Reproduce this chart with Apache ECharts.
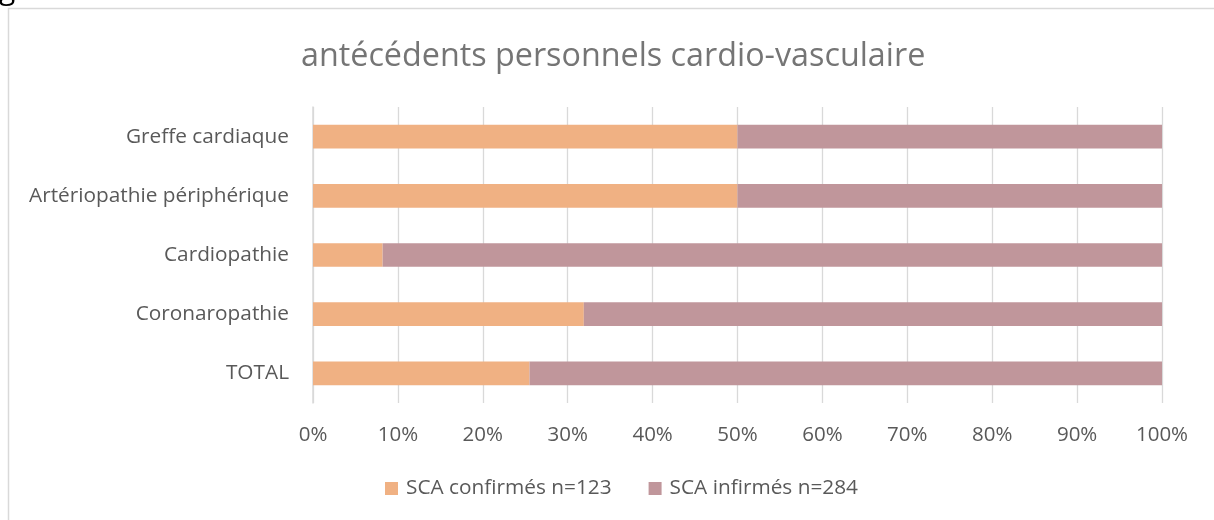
<!DOCTYPE html>
<html><head><meta charset="utf-8">
<script src="https://cdn.jsdelivr.net/npm/echarts@6/dist/echarts.min.js"></script>
<style>html,body{margin:0;padding:0;background:#fff}#c{width:1214px;height:520px}</style>
</head><body><div id="c"></div>
<script>
const categories = ['TOTAL', 'Coronaropathie', 'Cardiopathie', 'Artériopathie périphérique', 'Greffe cardiaque'];
const confirmes = [25.5, 31.9, 8.2, 50, 50];
const infirmes = [74.5, 68.1, 91.8, 50, 50];
const seriesNames = ['SCA confirmés n=123', 'SCA infirmés n=284'];
const titleText = 'antécédents personnels cardio-vasculaire';
const font = 'Open Sans';
const chart = echarts.init(document.getElementById('c'));
chart.setOption({
  animation: false,
  textStyle: {fontFamily: font},
  title: {text: titleText, left: 296, top: 36,
    textStyle: {fontFamily: font, fontSize: 32.3, fontWeight: 'normal', color: '#757575'}},
  graphic: [
    {type: 'rect', shape: {x: 8.5, y: 8.5, width: 1210, height: 520}, style: {fill: 'none', stroke: '#d9d9d9', lineWidth: 1.5}},
    {type: 'text', left: -1, top: -25, style: {text: 'g', font: '30px ' + font, fill: '#000'}}
  ],
  legend: {top: 473, left: 380, itemWidth: 13, itemHeight: 13, itemGap: 37, icon: 'rect',
    textStyle: {fontSize: 20.8, color: '#595959', fontFamily: font, padding: [0, 0, 0, 3]}},
  grid: {left: 313, right: 52, top: 107, bottom: 117, containLabel: false},
  xAxis: {type: 'value', min: 0, max: 100, interval: 10,
    axisLabel: {formatter: '{value}%', fontSize: 20.5, color: '#595959', margin: 22, fontFamily: font},
    splitLine: {lineStyle: {color: '#d9d9d9', width: 1.3}},
    axisLine: {show: false}, axisTick: {show: false}},
  yAxis: {type: 'category', data: categories,
    axisLabel: {fontSize: 20.8, color: '#595959', margin: 24, fontFamily: font},
    axisLine: {show: true, lineStyle: {color: '#d9d9d9', width: 1.5}}, axisTick: {show: false}},
  series: [
    {name: seriesNames[0], type: 'bar', stack: 's', data: confirmes, barCategoryGap: '60%',
      itemStyle: {color: '#f0b183'}},
    {name: seriesNames[1], type: 'bar', stack: 's', data: infirmes, barCategoryGap: '60%',
      itemStyle: {color: '#c0969b'}}
  ]
});
</script></body></html>
